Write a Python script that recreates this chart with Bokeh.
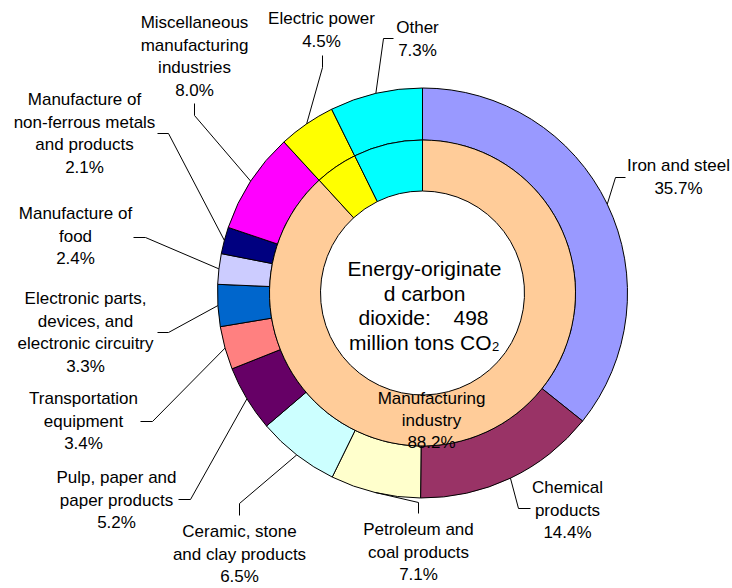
import numpy as np
from bokeh.plotting import figure
from bokeh.models import Range1d
from bokeh.embed import file_html
from bokeh.resources import INLINE
from bokeh.core.properties import value

# ---------------- data ----------------
categories = [
    "Iron and steel", "Chemical products", "Petroleum and coal products",
    "Ceramic, stone and clay products", "Pulp, paper and paper products",
    "Transportation equipment",
    "Electronic parts, devices, and electronic circuitry",
    "Manufacture of food", "Manufacture of non-ferrous metals and products",
    "Miscellaneous manufacturing industries", "Electric power", "Other",
]
shares = [35.7, 14.4, 7.1, 6.5, 5.2, 3.4, 3.3, 2.4, 2.1, 8.0, 4.5, 7.3]
colors = ["#9999FF", "#993366", "#FFFFCC", "#CCFFFF", "#660066", "#FF8080",
          "#0066CC", "#CCCCFF", "#000080", "#FF00FF", "#FFFF00", "#00FFFF"]

inner_categories = ["Manufacturing industry", "Electric power", "Other"]
inner_shares = [88.2, 4.5, 7.3]
inner_colors = ["#FFCC99", "#FFFF00", "#00FFFF"]

total_emissions = 498  # million tons CO2

label_lines = [
    ["Iron and steel"], ["Chemical", "products"], ["Petroleum and", "coal products"],
    ["Ceramic, stone", "and clay products"], ["Pulp, paper and", "paper products"],
    ["Transportation", "equipment"],
    ["Electronic parts,", "devices, and", "electronic circuitry"],
    ["Manufacture of", "food"], ["Manufacture of", "non-ferrous metals", "and products"],
    ["Miscellaneous", "manufacturing", "industries"], ["Electric power"], ["Other"],
]

# ---------------- layout (screen px, y down) ----------------
W, H = 732, 588
CX, CY = 422, 292.5
R_OUT, R_MID, R_IN = 205, 153, 102
FONT = "Liberation Sans"
LBL_FS = 17
CTR_FS = 21
LINE_H = 22.7

label_pos = [(678, 165), (567, 487), (418, 529), (239, 531), (116, 477), (83, 398),
             (85, 298), (75, 213), (84, 99), (194, 22), (321, 18), (417, 27)]
leader_pts = [[(625, 177), (615, 177)], [(530, 508), (518, 508)], [(418, 513), (418, 502)],
              [(239, 515), (239, 503)], [(178, 499), (190, 499)], [(140, 421), (152, 421)],
              [(157, 332), (168, 332)], [(133, 237), (145, 237)], [(157, 133), (168, 133)],
              [(194, 103), (194, 115)], [(322, 55), (322, 67)], [(393, 38), (383, 38)]]


def Y(y):
    return H - y


p = figure(width=W, height=H, x_range=Range1d(0, W), y_range=Range1d(0, H),
           output_backend="svg", toolbar_location=None, min_border=0)
p.axis.visible = False
p.grid.visible = False
p.outline_line_color = None
p.background_fill_color = "white"
p.border_fill_color = "white"


def ring(vals, cols, r0, r1):
    vals = np.asarray(vals, dtype=float)
    tot = vals.sum()
    ends = np.cumsum(vals) / tot * 2 * np.pi
    starts = np.concatenate([[0.0], ends[:-1]])
    p.annular_wedge(x=CX, y=Y(CY), inner_radius=r0, outer_radius=r1,
                    start_angle=list(np.pi / 2 - ends), end_angle=list(np.pi / 2 - starts),
                    direction="anticlock", fill_color=cols, line_color="black", line_width=1)
    return (starts + ends) / 2


mids = ring(shares, colors, R_MID, R_OUT)
ring(inner_shares, inner_colors, R_IN, R_MID)


def put_text(x, y, s, fs, align="center"):
    p.text(x=[x], y=[Y(y)], text=[s], text_align=align,
           text_baseline="alphabetic", text_font=value(FONT),
           text_font_size=f"{fs}px", text_color="black")


# outer labels and leaders
for i, cat in enumerate(categories):
    lines = label_lines[i] + [f"{shares[i]:.1f}%"]
    cx, y0 = label_pos[i]
    for k, s in enumerate(lines):
        put_text(cx, y0 + k * LINE_H, s, LBL_FS)
    ex = CX + R_OUT * np.sin(mids[i])
    ey = CY - R_OUT * np.cos(mids[i])
    pts = leader_pts[i] + [(ex, ey)]
    p.line(x=[q[0] for q in pts], y=[Y(q[1]) for q in pts], line_color="black", line_width=1)

# inner label
for k, s in enumerate(["Manufacturing", "industry", f"{inner_shares[0]:.1f}%"]):
    put_text(431, 398 + k * 22, s, LBL_FS)

# centre text
put_text(424, 268, "Energy-originate", CTR_FS)
put_text(424, 293, "d carbon", CTR_FS)
put_text(358, 317, "dioxide:", CTR_FS, align="left")
put_text(488, 317, f"{total_emissions}", CTR_FS, align="right")
put_text(491, 342, "million tons CO", CTR_FS, align="right")
put_text(491.5, 346, "2", 13, align="left")

open("out.html", "w").write(file_html(p, INLINE))
